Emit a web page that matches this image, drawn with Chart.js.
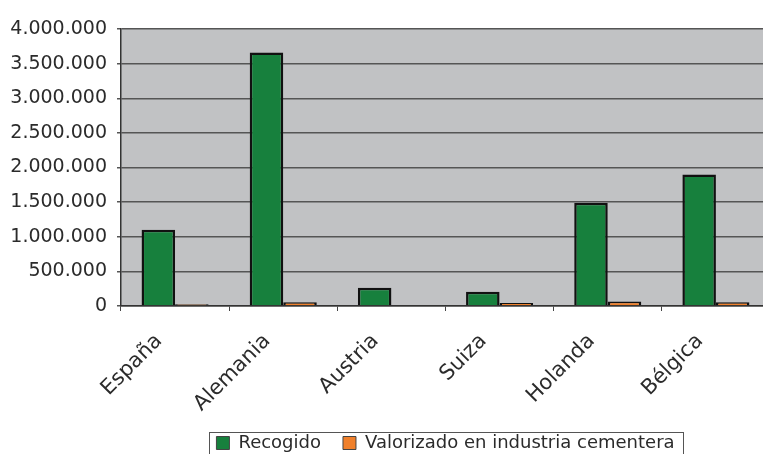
<!DOCTYPE html>
<html>
<head>
<meta charset="utf-8">
<script src="https://cdn.jsdelivr.net/npm/chart.js@4.4.0/dist/chart.umd.min.js"></script>
<style>
  html, body { margin: 0; padding: 0; background: #fff; overflow: hidden; }
  #chart { display: block; }
</style>
</head>
<body>
<canvas id="chart" width="780" height="462"></canvas>
<script>
var categories = ['España', 'Alemania', 'Austria', 'Suiza', 'Holanda', 'Bélgica'];
var recogido = [1100000, 3660000, 265000, 205000, 1490000, 1900000];
var valorizado = [25000, 55000, 0, 45000, 65000, 55000];
var seriesNames = ['Recogido', 'Valorizado en industria cementera'];
var yMax = 4000000;
var yStep = 500000;

var FONT = '"DejaVu Sans", sans-serif';
var TEXT = '#2b2b2b';

function fmtNumber(v){
    return String(v).replace(/\B(?=(\d{3})+(?!\d))/g, '.');
}

// gray plot background
var plotBg = {
    id: 'plotBg',
    beforeDraw: function(chart){
        var a = chart.chartArea;
        var ctx = chart.ctx;
        ctx.save();
        ctx.fillStyle = '#c1c2c4';
        ctx.fillRect(a.left, a.top, a.right - a.left, a.bottom - a.top);
        ctx.restore();
    }
};

// border round the legend
var legendFrame = {
    id: 'legendFrame',
    afterDraw: function(chart){
        var boxes = chart.legend.legendHitBoxes;
        if( !boxes || !boxes.length ) return;
        var left = boxes[0].left, right = 0, top = boxes[0].top, bottom = 0;
        for( var i = 0; i < boxes.length; i++ ){
            left = Math.min(left, boxes[i].left);
            right = Math.max(right, boxes[i].left + boxes[i].width);
            top = Math.min(top, boxes[i].top);
            bottom = Math.max(bottom, boxes[i].top + boxes[i].height);
        }
        var ctx = chart.ctx;
        ctx.save();
        ctx.strokeStyle = '#555';
        ctx.lineWidth = 1;
        ctx.strokeRect(Math.round(left - 7) + 0.5, Math.round(top - 2) + 0.5,
            Math.round(right - left + 16), Math.round(bottom - top + 10));
        ctx.restore();
    }
};

new Chart(document.getElementById('chart'), {
    type: 'bar',
    data: {
        labels: categories,
        datasets: [{
            label: seriesNames[0],
            data: recogido,
            backgroundColor: '#17803d',
            borderColor: '#111',
            borderWidth: 2.5
        }, {
            label: seriesNames[1],
            data: valorizado,
            backgroundColor: '#f0802b',
            borderColor: '#111',
            borderWidth: 2.5
        }]
    },
    options: {
        responsive: false,
        devicePixelRatio: 1,
        animation: false,
        layout: { padding: { top: 29, right: 10, left: 0, bottom: 0 } },
        datasets: {
            bar: { categoryPercentage: 0.62, barPercentage: 1 }
        },
        plugins: {
            tooltip: { enabled: false },
            legend: {
                position: 'bottom',
                fullSize: false,
                labels: {
                    font: { family: FONT, size: 18 },
                    color: TEXT,
                    boxWidth: 13,
                    boxHeight: 13,
                    padding: 22,
                    generateLabels: function(chart){
                        return chart.data.datasets.map(function(ds, i){
                            return {
                                text: ds.label,
                                fillStyle: ds.backgroundColor,
                                strokeStyle: '#444',
                                lineWidth: 1,
                                fontColor: TEXT,
                                datasetIndex: i
                            };
                        });
                    }
                }
            }
        },
        scales: {
            x: {
                grid: {
                    display: true,
                    drawOnChartArea: false,
                    drawTicks: true,
                    tickLength: 5,
                    offset: true,
                    color: '#444',
                    lineWidth: 1
                },
                border: { color: '#333', width: 1.5 },
                ticks: {
                    font: { family: FONT, size: 21 },
                    color: TEXT,
                    minRotation: 45,
                    maxRotation: 45,
                    padding: 18,
                    labelOffset: -16
                },
                afterFit: function(scale){ scale.height = 106; }
            },
            y: {
                min: 0,
                max: yMax,
                grid: {
                    color: '#555',
                    lineWidth: 1.5,
                    tickLength: 4
                },
                border: { color: '#333', width: 1.5 },
                ticks: {
                    stepSize: yStep,
                    font: { family: FONT, size: 19 },
                    color: TEXT,
                    padding: 10,
                    callback: function(v){ return fmtNumber(v); }
                },
                afterFit: function(scale){ scale.width = 121; }
            }
        }
    },
    plugins: [plotBg, legendFrame]
});
</script>
</body>
</html>
